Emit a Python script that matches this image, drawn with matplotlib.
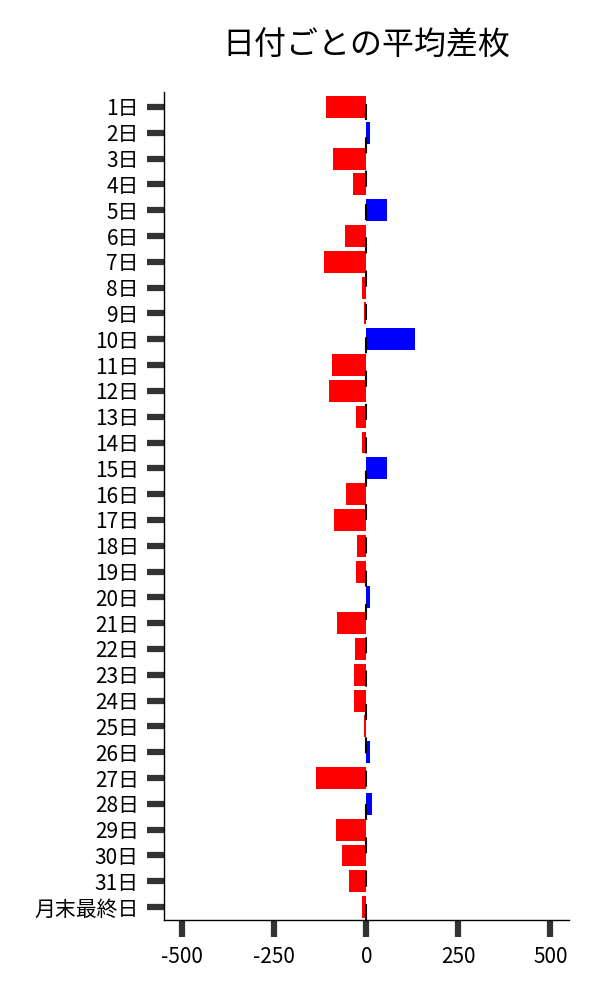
import matplotlib.pyplot as plt
import numpy as np

plt.rcParams['font.family'] = ['Noto Sans CJK JP', 'DejaVu Sans']
plt.rcParams['axes.unicode_minus'] = False

days = [f"{d}日" for d in range(1, 32)] + ["月末最終日"]
diff = [-110, 11, -91, -37, 57, -59, -116, -13, -6, 131,
        -94, -101, -29, -13, 55, -56, -89, -24, -29, 11,
        -80, -32, -34, -34, -7, 10, -136, 16, -82, -67,
        -48, -13]
xticks = [-500, -250, 0, 250, 500]

colors = ["blue" if v > 0 else "red" for v in diff]
y = np.arange(len(days))

fig = plt.figure(figsize=(6, 10), dpi=100)
ax = fig.add_axes([0.273, 0.08, 0.675, 0.828])
ax.barh(y, diff, height=0.85, color=colors)
# dashed zero line
ax.axvline(0, color="black", linewidth=1.5, linestyle=(0, (7.7, 8.3)))

ax.set_yticks(y)
ax.set_yticklabels(days, fontsize=15)
ax.set_ylim(len(days) - 0.5, -0.58)
ax.set_xlim(-550, 550)
ax.set_xticks(xticks)
ax.set_xticklabels([str(t) for t in xticks], fontsize=15)
ax.tick_params(axis="y", length=12, width=4.5, color="#333333", pad=6)
ax.tick_params(axis="x", length=12, width=4.5, color="#333333", pad=7)

for s in ["top", "right"]:
    ax.spines[s].set_visible(False)
for s in ["left", "bottom"]:
    ax.spines[s].set_linewidth(1)

fig.text(0.61, 0.954, "日付ごとの平均差枚", fontsize=23, ha="center", va="center")

plt.savefig("out.png")
plt.close()
